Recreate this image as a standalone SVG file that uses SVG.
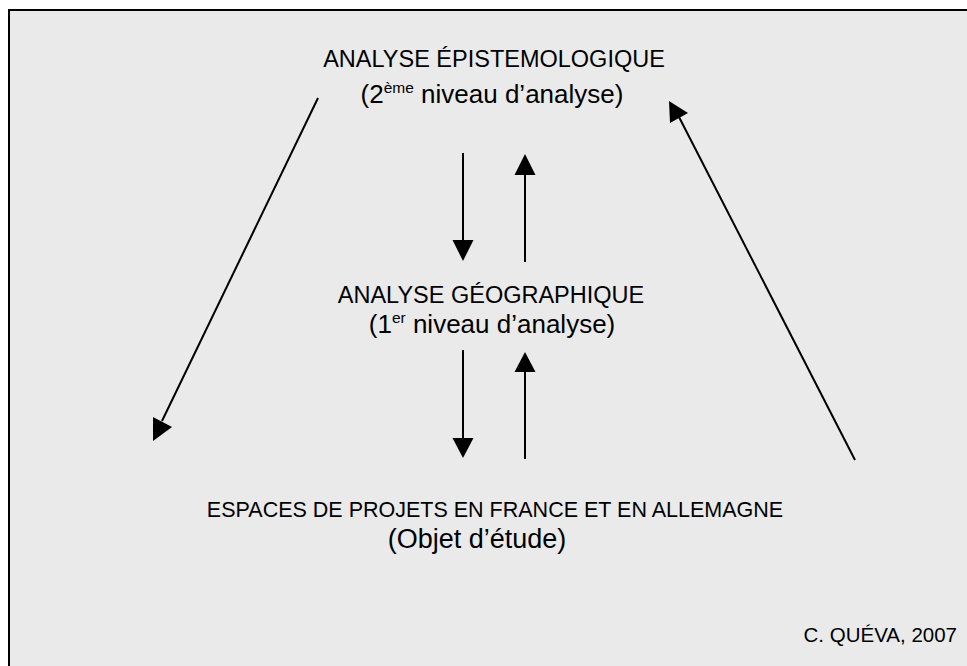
<svg xmlns="http://www.w3.org/2000/svg" width="967" height="666" viewBox="0 0 967 666">
<defs>
<style>
.t{font-family:"Liberation Sans",Arial,sans-serif;fill:#000;text-anchor:middle}
.h{font-size:23.5px}
.s{font-size:26px}
.c{stroke:#000;stroke-width:2;fill:none}
.hd{fill:#000;stroke:none}
</style>
</defs>
<rect x="9" y="10" width="980" height="680" fill="#EAEAEA" stroke="#000" stroke-width="2"/>
<g id="node-epistemo">
<text class="t h" x="494" y="67">ANALYSE ÉPISTEMOLOGIQUE</text>
<text class="t s" x="492" y="103">(2<tspan font-size="15.5" dy="-10">ème</tspan><tspan dy="10"> niveau d’analyse)</tspan></text>
</g>
<g id="node-geo">
<text class="t h" x="491" y="303">ANALYSE GÉOGRAPHIQUE</text>
<text class="t s" x="492" y="333">(1<tspan font-size="15.5" dy="-10">er</tspan><tspan dy="10"> niveau d’analyse)</tspan></text>
</g>
<g id="node-objet">
<text class="t" font-size="21.5" x="495" y="517">ESPACES DE PROJETS EN FRANCE ET EN ALLEMAGNE</text>
<text class="t" font-size="27" x="477" y="548">(Objet d’étude)</text>
</g>
<g id="credit">
<text class="t" font-size="20.5" x="957" y="642" style="text-anchor:end">C. QUÉVA, 2007</text>
</g>
<g id="connectors">
<line class="c" x1="463" y1="153" x2="463" y2="242"/>
<polygon class="hd" points="452.5,240 473.5,240 463,261"/>
<line class="c" x1="525" y1="173" x2="525" y2="262"/>
<polygon class="hd" points="514.5,175 535.5,175 525,154"/>
<line class="c" x1="463" y1="350" x2="463" y2="440"/>
<polygon class="hd" points="452.5,438 473.5,438 463,458"/>
<line class="c" x1="525" y1="370" x2="525" y2="459"/>
<polygon class="hd" points="514.5,372 535.5,372 525,352"/>
<line class="c" x1="318" y1="98" x2="162" y2="421"/>
<polygon class="hd" points="153,417 172,427 153,441"/>
<line class="c" x1="855" y1="460" x2="679" y2="117"/>
<polygon class="hd" points="669,101 688,113 670,123"/>
</g>
</svg>
